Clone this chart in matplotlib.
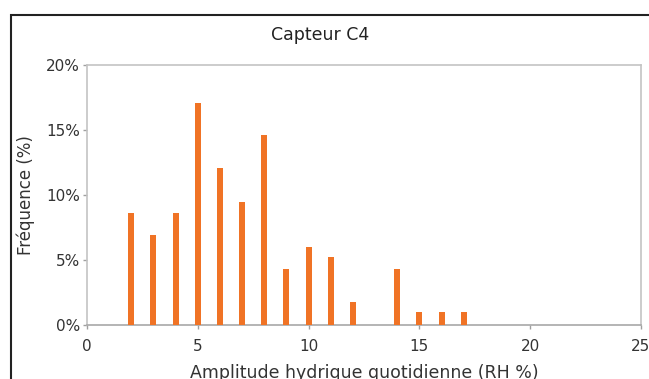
import matplotlib
matplotlib.use("Agg")
import matplotlib.pyplot as plt
from matplotlib.patches import Rectangle
from matplotlib.ticker import FuncFormatter

amplitude = [2, 3, 4, 5, 6, 7, 8, 9, 10, 11, 12, 14, 15, 16, 17]
frequence = [8.6, 6.9, 8.6, 17.1, 12.1, 9.5, 14.6, 4.3, 6.0, 5.2, 1.8, 4.3, 1.0, 1.0, 1.0]

title = "Capteur C4"
xlabel = "Amplitude hydrique quotidienne (RH %)"
ylabel = "Fréquence (%)"

plt.rcParams['font.family'] = ['DejaVu Sans']

fig = plt.figure(figsize=(6.49, 3.79), dpi=100)
W, H = 649, 379
ax = fig.add_axes([87 / W, 1 - 325 / H, (641 - 87) / W, (325 - 65) / H])

ax.bar(amplitude, frequence, width=0.27, color='#f07325', zorder=3)

ax.set_xlim(0, 25)
ax.set_ylim(0, 20)
ax.set_xticks([0, 5, 10, 15, 20, 25])
ax.set_yticks([0, 5, 10, 15, 20])
ax.yaxis.set_major_formatter(FuncFormatter(lambda v, p: f"{int(v)}%"))

for s in ax.spines.values():
    s.set_color('#c4c4c4')
    s.set_linewidth(1.2)
ax.spines['bottom'].set_color('#a8a8a8')
ax.tick_params(axis='both', colors='#a0a0a0', length=3, width=1,
               labelcolor='#333333', labelsize=11)
ax.tick_params(axis='x', pad=7)
ax.tick_params(axis='y', pad=2)

ax.set_xlabel(xlabel, fontsize=12.5, color='#333333', labelpad=7)
ax.set_ylabel(ylabel, fontsize=12, color='#333333', labelpad=8)

fig.text(320 / W, 1 - 35 / H, title, ha='center', va='center', fontsize=12.5, color='#222222')

# outer frame of the original figure (cropped)
fig.patches.append(Rectangle((11 / W, -0.1), 1.2, 1 - 15 / H + 0.1,
                             transform=fig.transFigure, fill=False,
                             edgecolor='#222222', linewidth=1.5))

fig.savefig("out.png", dpi=100)
